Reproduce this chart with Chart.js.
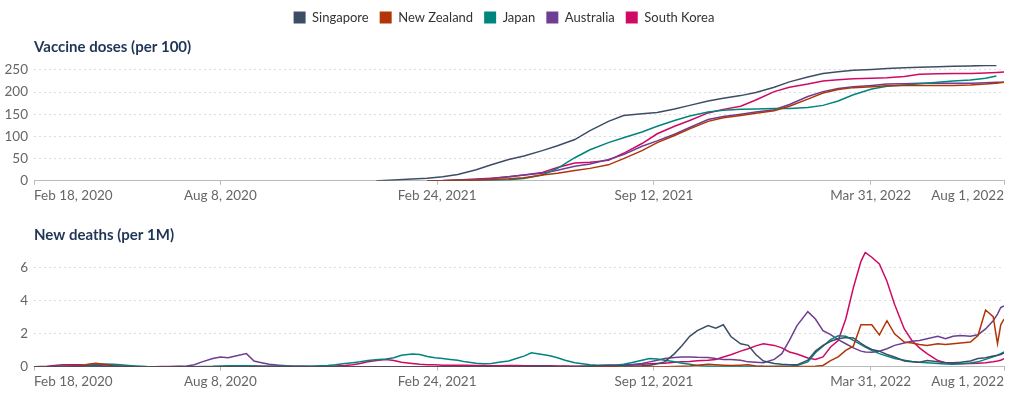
<!DOCTYPE html>
<html>
<head>
<meta charset="utf-8">
<script src="https://cdn.jsdelivr.net/npm/chart.js@4.4.1/dist/chart.umd.min.js"></script>
<style>
html,body{margin:0;padding:0;background:#fff;}
#wrap{position:relative;width:1009px;height:395px;overflow:hidden;background:#fff;}
#c1{position:absolute;left:0;top:0;}
#c2{position:absolute;left:0;top:208px;}
</style>
</head>
<body>
<div id="wrap">
<canvas id="c1" width="1009" height="208"></canvas>
<canvas id="c2" width="1009" height="187"></canvas>
</div>
<script>
// ---------- categories / labels ----------
const countries = ["Singapore", "New Zealand", "Japan", "Australia", "South Korea"];
const colors = ["#3C4E66", "#B13507", "#00847E", "#6D3E91", "#CF0A66"];
const vaxTitle = "Vaccine doses (per 100)";
const deathTitle = "New deaths (per 1M)";
const xStart = "2020-02-18";
const xEnd = "2022-08-01";
const xTickDates = ["2020-02-18", "2020-08-08", "2021-02-24", "2021-09-12", "2022-03-31", "2022-08-01"];
const xTickLabels = ["Feb 18, 2020", "Aug 8, 2020", "Feb 24, 2021", "Sep 12, 2021", "Mar 31, 2022", "Aug 1, 2022"];
const vaxTicks = [0, 50, 100, 150, 200, 250];
const deathTicks = [0, 2, 4, 6];
const vaxMax = 261;
const deathMax = 7;

// ---------- vaccine doses (per 100) ----------
const vaxDates = ["2020-12-30","2021-01-01","2021-01-15","2021-02-01","2021-02-15","2021-03-01","2021-03-15",
  "2021-04-01","2021-04-15","2021-05-01","2021-05-15","2021-06-01","2021-06-15","2021-07-01","2021-07-15",
  "2021-08-01","2021-08-15","2021-09-01","2021-09-15","2021-10-01","2021-10-15","2021-11-01","2021-11-15",
  "2021-12-01","2021-12-15","2022-01-01","2022-01-15","2022-02-01","2022-02-15","2022-03-01","2022-03-15",
  "2022-04-01","2022-04-15","2022-05-01","2022-05-15","2022-06-01","2022-06-15","2022-07-01","2022-07-15",
  "2022-07-25","2022-08-01"];
const vaxSingapore = [0,0.3,2,4,6,9,14,25,36,48,56,68,79,93,113,134,147,151,154,162,170,180,186,192,199,211,223,234,242,246,249,251,253,255,256,257,258,259,260,260,null];
const vaxNewZealand = [null,null,null,null,0,0.2,0.5,1.5,3,4.5,7,13,17,23,28,36,50,68,86,102,117,134,142,147,152,158,168,184,198,206,210,212,214,215,215,215,215,216,218,220,222];
const vaxJapan = [null,null,null,null,0,0.2,0.5,1,1.5,2.5,5,13,28,52,70,86,97,110,123,136,146,155,159,161,162,163,163,165,170,180,194,207,213,216,219,222,225,227,231,236,null];
const vaxAustralia = [null,null,null,null,0,0.3,1,2.5,5,9,13,17,24,33,38,48,59,78,90,105,120,138,145,150,155,160,172,190,201,208,212,215,218,219,220,220,220,220,221,222,222];
const vaxSouthKorea = [null,null,null,null,0,0.5,2,4,6,9,13,19,30,40,42,46,62,84,106,123,136,153,161,168,182,201,211,218,225,228,230,231,232,235,240,241,242,242,243,244,245];

// ---------- new deaths (per 1M) ----------
const deathDates = ["2020-02-18",
  "2020-03-01","2020-03-08","2020-03-15","2020-03-22",
  "2020-04-01","2020-04-08","2020-04-15","2020-04-22",
  "2020-05-01","2020-05-08","2020-05-15","2020-05-22",
  "2020-06-01","2020-06-08","2020-06-15","2020-06-22",
  "2020-07-01","2020-07-08","2020-07-15","2020-07-22",
  "2020-08-01","2020-08-08","2020-08-15","2020-08-22",
  "2020-09-01","2020-09-08","2020-09-15","2020-09-22",
  "2020-10-01","2020-10-08","2020-10-15","2020-10-22",
  "2020-11-01","2020-11-08","2020-11-15","2020-11-22",
  "2020-12-01","2020-12-08","2020-12-15","2020-12-22",
  "2021-01-01","2021-01-08","2021-01-15","2021-01-22",
  "2021-02-01","2021-02-08","2021-02-15","2021-02-22",
  "2021-03-01","2021-03-08","2021-03-15","2021-03-22",
  "2021-04-01","2021-04-08","2021-04-15","2021-04-22",
  "2021-05-01","2021-05-08","2021-05-15","2021-05-22",
  "2021-06-01","2021-06-08","2021-06-15","2021-06-22",
  "2021-07-01","2021-07-08","2021-07-15","2021-07-22",
  "2021-08-01","2021-08-08","2021-08-15","2021-08-22",
  "2021-09-01","2021-09-08","2021-09-15","2021-09-22",
  "2021-10-01","2021-10-08","2021-10-15","2021-10-22",
  "2021-11-01","2021-11-08","2021-11-15","2021-11-22",
  "2021-12-01","2021-12-08","2021-12-15","2021-12-22",
  "2022-01-01","2022-01-08","2022-01-15","2022-01-22",
  "2022-02-01","2022-02-08","2022-02-15","2022-02-22",
  "2022-03-01","2022-03-08","2022-03-15","2022-03-22","2022-03-26",
  "2022-04-01","2022-04-08","2022-04-15","2022-04-22",
  "2022-05-01","2022-05-08","2022-05-15","2022-05-22",
  "2022-06-01","2022-06-08","2022-06-15","2022-06-22",
  "2022-07-01","2022-07-08","2022-07-15","2022-07-22","2022-07-26","2022-07-29",
  "2022-08-01"];

const deathSingapore = [0,
  0,0.01,0.02,0.02,  0.03,0.03,0.04,0.04,  0.03,0.02,0.02,0.01,  0.01,0.01,0.01,0.01,
  0,0,0.01,0,  0,0,0,0,  0,0,0,0,  0,0,0,0,  0,0,0,0,  0,0,0,0,
  0,0,0,0,  0,0,0,0,  0,0,0,0,  0,0,0,0,  0.01,0.02,0.02,0.03,  0.03,0.03,0.02,0.02,
  0.02,0.03,0.04,0.06,  0.1,0.08,0.06,0.05,  0.06,0.1,0.18,0.3,  0.8,1.3,1.85,2.2,
  2.5,2.35,2.55,1.84,  1.4,1.3,0.75,0.35,
  0.2,0.15,0.12,0.12,  0.4,0.95,1.3,1.55,  1.7,1.78,1.75,1.43,1.25,
  1.05,0.95,0.75,0.6,  0.35,0.3,0.28,0.38,  0.3,0.25,0.24,0.28,
  0.35,0.5,0.55,0.65,0.7,0.75,
  0.85];

const deathNewZealand = [0,
  0,0,0.01,0.03,  0.06,0.15,0.22,0.15,  0.06,0.03,0.01,0,  0,0,0,0,
  0,0,0,0,  0,0,0,0,  0,0,0,0,  0,0,0,0,  0,0,0,0,  0,0,0,0,
  0,0,0,0,  0,0,0,0,  0,0,0,0,  0,0,0,0,  0,0,0,0,  0,0,0,0,
  0,0,0,0,  0,0,0,0,  0.01,0.02,0.01,0.01,  0.02,0.03,0.05,0.1,
  0.15,0.12,0.1,0.08,  0.1,0.12,0.05,0.03,
  0.02,0.02,0.01,0.02,  0.02,0.03,0.08,0.38,  0.6,1.0,1.25,2.55,2.55,
  2.55,1.94,2.8,2.0,  1.5,1.45,1.35,1.3,  1.4,1.35,1.4,1.45,
  1.5,1.9,3.45,3.05,1.4,2.55,
  2.9];

const deathJapan = [0,
  0.01,0.02,0.03,0.03,  0.05,0.1,0.15,0.17,  0.15,0.12,0.08,0.05,  0.02,0.01,0.01,0.01,
  0.01,0.01,0.01,0.02,  0.03,0.05,0.06,0.07,  0.06,0.05,0.04,0.03,  0.03,0.03,0.03,0.03,
  0.04,0.06,0.08,0.12,  0.2,0.25,0.3,0.38,
  0.45,0.48,0.55,0.7,  0.78,0.75,0.63,0.55,  0.5,0.45,0.4,0.3,  0.22,0.18,0.2,0.28,
  0.35,0.5,0.65,0.85,  0.75,0.67,0.55,0.4,  0.25,0.18,0.12,0.1,  0.1,0.1,0.15,0.25,
  0.4,0.5,0.48,0.4,  0.3,0.22,0.15,0.08,  0.04,0.03,0.02,0.02,  0.02,0.02,0.02,0.02,
  0.02,0.03,0.04,0.08,  0.3,0.85,1.25,1.65,  1.88,1.85,1.6,1.35,1.2,
  1.0,0.8,0.65,0.5,  0.4,0.32,0.27,0.24,  0.2,0.17,0.16,0.18,
  0.23,0.3,0.45,0.6,0.7,0.8,
  0.9];

const deathAustralia = [0,
  0,0.01,0.02,0.03,  0.05,0.06,0.05,0.04,  0.02,0.02,0.01,0.01,  0,0,0,0.01,
  0.03,0.05,0.12,0.3,  0.5,0.6,0.55,0.65,  0.8,0.35,0.25,0.15,  0.1,0.06,0.04,0.03,
  0.02,0.01,0,0,  0,0,0,0,
  0,0,0,0,  0,0,0,0,  0,0,0,0,  0,0,0,0,  0,0,0,0,  0,0,0,0,
  0,0,0,0,  0.03,0.05,0.08,0.12,  0.2,0.3,0.4,0.5,  0.57,0.6,0.6,0.58,
  0.57,0.5,0.45,0.45,  0.4,0.3,0.28,0.25,
  0.45,0.8,1.6,2.5,  3.35,2.9,2.2,1.95,  1.65,1.4,1.15,0.95,0.9,
  0.88,0.95,1.1,1.3,  1.45,1.55,1.6,1.7,  1.85,1.7,1.85,1.9,
  1.85,1.95,2.3,2.8,3.2,3.6,
  3.7];

const deathSouthKorea = [0,
  0.03,0.08,0.12,0.12,  0.12,0.1,0.08,0.05,  0.03,0.02,0.01,0.01,  0.01,0.01,0.02,0.02,
  0.02,0.01,0.01,0.01,  0.01,0.01,0.01,0.02,  0.04,0.05,0.04,0.03,  0.03,0.03,0.02,0.02,
  0.02,0.02,0.03,0.05,  0.08,0.12,0.2,0.3,
  0.4,0.45,0.38,0.28,  0.2,0.15,0.13,0.12,  0.1,0.1,0.09,0.09,  0.08,0.08,0.07,0.07,
  0.08,0.08,0.07,0.07,  0.06,0.06,0.05,0.05,  0.04,0.04,0.05,0.06,  0.08,0.1,0.12,0.13,
  0.15,0.18,0.2,0.22,  0.28,0.3,0.32,0.36,  0.4,0.45,0.6,0.73,  0.95,1.1,1.27,1.4,
  1.3,1.15,0.9,0.78,  0.53,0.45,0.6,1.2,  1.6,2.9,4.8,6.4,6.95,
  6.65,6.25,5.2,3.8,  2.3,1.6,1.15,0.8,  0.38,0.25,0.2,0.18,
  0.2,0.22,0.25,0.3,0.35,0.4,
  0.5];

const vaxSeries = [vaxSingapore, vaxNewZealand, vaxJapan, vaxAustralia, vaxSouthKorea];
const deathSeries = [deathSingapore, deathNewZealand, deathJapan, deathAustralia, deathSouthKorea];

// ---------- helpers ----------
const toTs = s => Date.parse(s + "T00:00:00Z");
const toPoints = (dates, vals) => dates.map((d, i) => ({x: toTs(d), y: vals[i]}));

Chart.defaults.font.family = "Lato, 'DejaVu Sans', sans-serif";

function buildDatasets(dates, seriesList) {
  return countries.map((name, i) => ({
    label: name,
    data: toPoints(dates, seriesList[i]),
    borderColor: colors[i],
    backgroundColor: colors[i],
    borderWidth: 1.5,
    pointRadius: 0,
    tension: 0,
    spanGaps: false
  }));
}

function buildOptions(cfg) {
  return {
    responsive: false,
    animation: false,
    layout: {padding: cfg.layoutPad},
    plugins: {
      legend: {
        display: cfg.legend,
        position: "top",
        align: "center",
        weight: 3000,
        labels: {
          boxWidth: 12, boxHeight: 12, padding: 11, color: "#333",
          font: {size: 13},
          generateLabels: (chart) => Chart.defaults.plugins.legend.labels.generateLabels(chart)
            .map(l => Object.assign(l, {lineWidth: 0}))
        }
      },
      title: {
        display: true, text: cfg.title, align: "start", position: "top",
        fullSize: false, weight: 2000, color: "#1f3556",
        font: {size: 15, weight: "bold"},
        padding: cfg.titlePad
      },
      tooltip: {enabled: false}
    },
    scales: {
      x: {
        type: "linear",
        min: toTs(xStart), max: toTs(xEnd),
        afterBuildTicks: s => { s.ticks = xTickDates.map(d => ({value: toTs(d)})); },
        ticks: {
          align: "inner", autoSkip: false, maxRotation: 0, minRotation: 0, padding: 3,
          color: "#666", font: {size: 13.5},
          callback: (v, i) => xTickLabels[i]
        },
        grid: {display: true, drawOnChartArea: false, drawTicks: true, tickLength: 4, color: "#bbb"},
        border: {display: true, color: "#bbb", width: 1}
      },
      y: {
        min: 0, max: cfg.yMax,
        afterBuildTicks: s => { s.ticks = cfg.yTicks.map(v => ({value: v})); },
        afterFit: s => { s.width = 30; },
        ticks: {padding: 6, color: "#666", font: {size: 13.5}},
        grid: {color: "#ddd", drawTicks: false, borderDash: [2, 3]},
        border: {display: false, dash: [2, 3]}
      }
    }
  };
}

new Chart(document.getElementById("c1"), {
  type: "line",
  data: {datasets: buildDatasets(vaxDates, vaxSeries)},
  options: buildOptions({
    legend: true, title: vaxTitle, yMax: vaxMax, yTicks: vaxTicks,
    layoutPad: {left: 4, right: 5, top: 0, bottom: 1},
    titlePad: {top: 4, bottom: 9}
  })
});

new Chart(document.getElementById("c2"), {
  type: "line",
  data: {datasets: buildDatasets(deathDates, deathSeries)},
  options: buildOptions({
    legend: false, title: deathTitle, yMax: deathMax, yTicks: deathTicks,
    layoutPad: {left: 4, right: 5, top: 0, bottom: 2},
    titlePad: {top: 18, bottom: 7.5}
  })
});
</script>
</body>
</html>
